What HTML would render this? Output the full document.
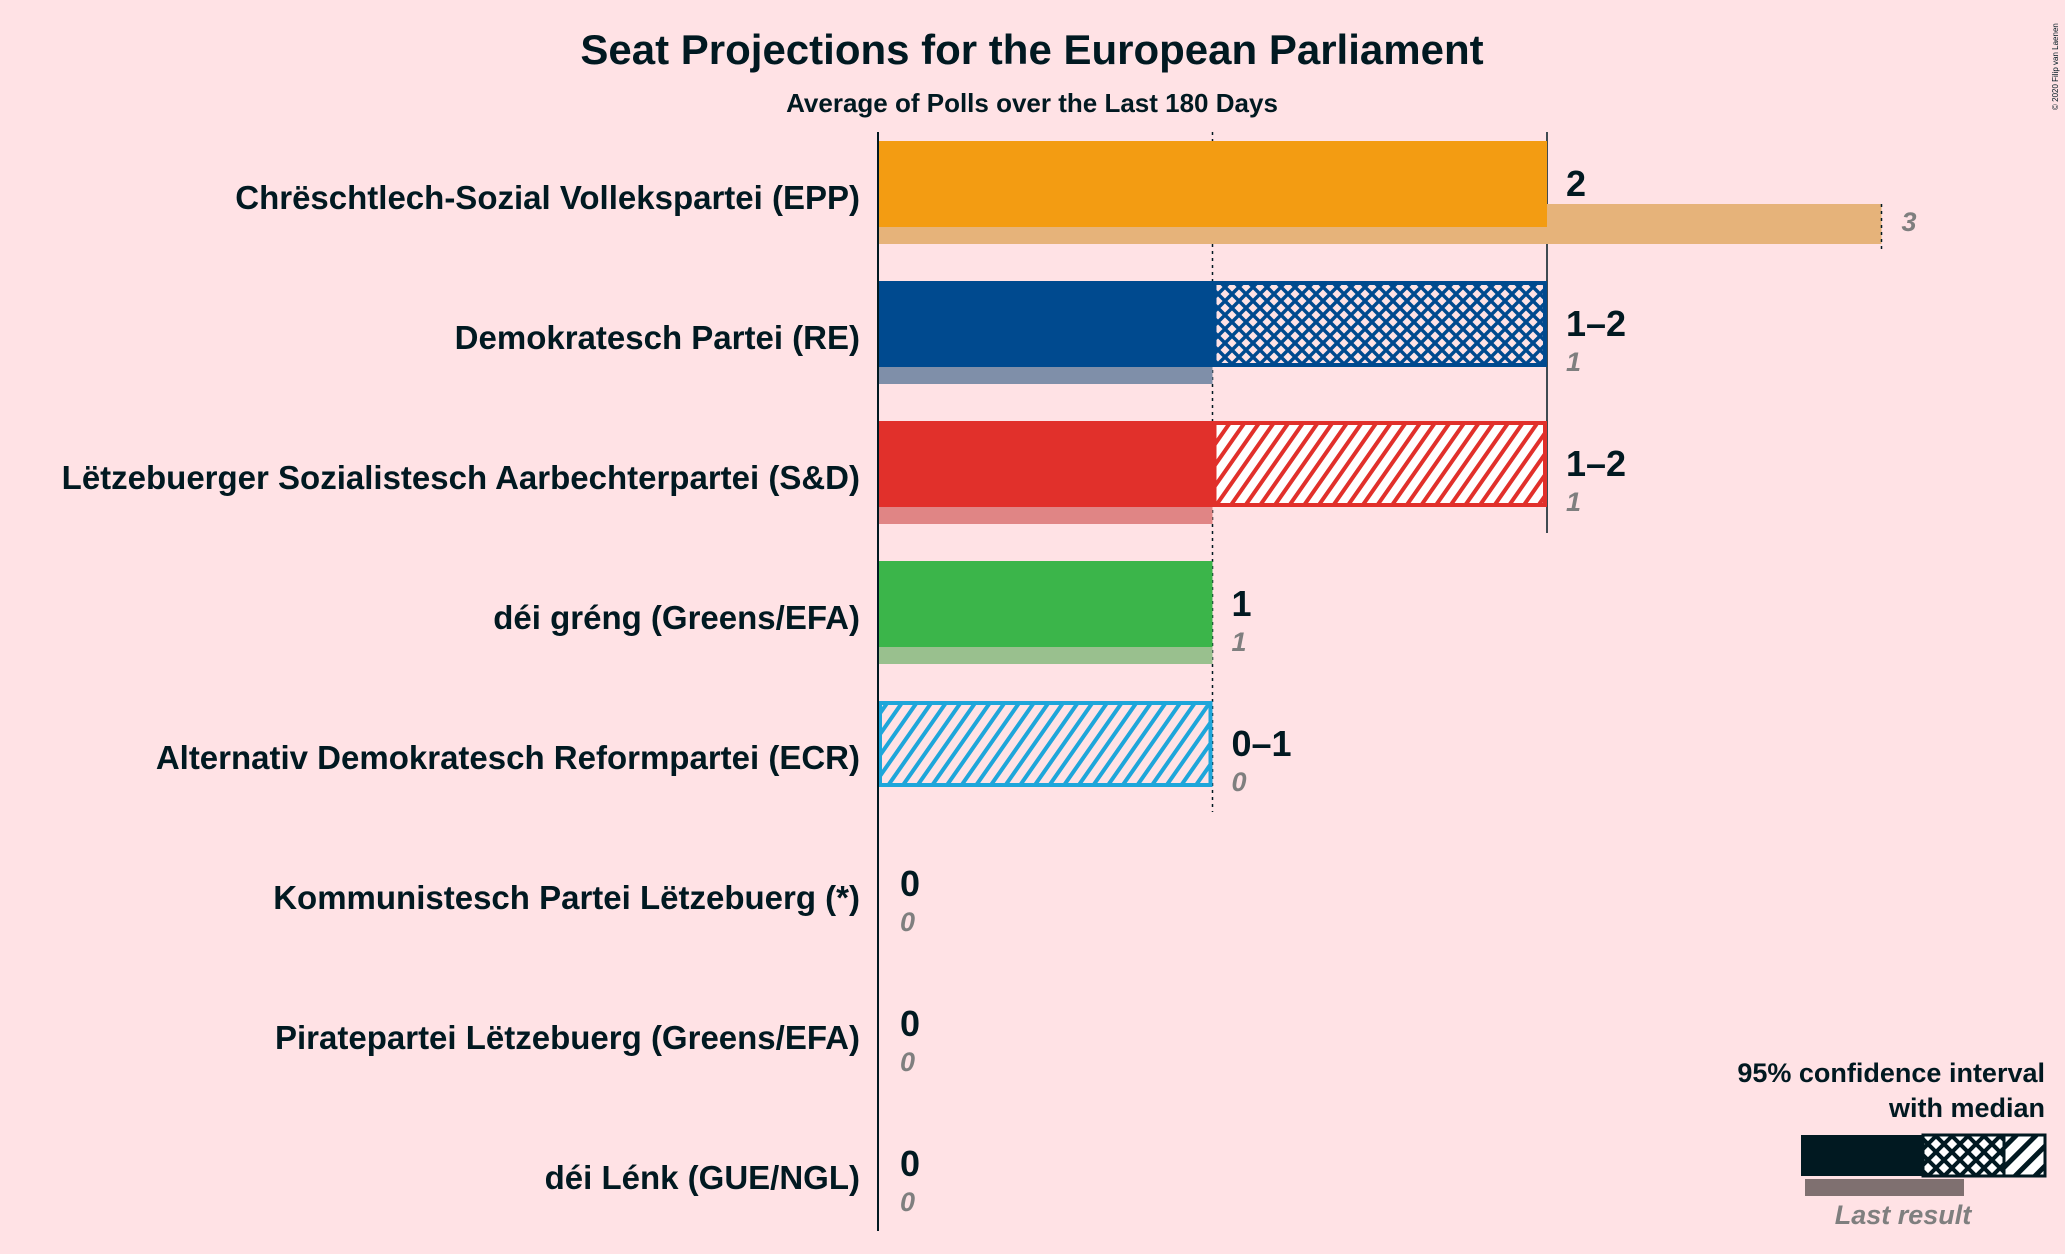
<!DOCTYPE html>
<html><head><meta charset="utf-8"><style>
html,body{margin:0;padding:0;background:#FFE2E5;}
svg{display:block;font-family:"Liberation Sans",sans-serif;}
</style></head><body>
<svg id="chart" width="2065" height="1254" viewBox="0 0 2065 1254" xmlns="http://www.w3.org/2000/svg">
<defs>
<pattern id="cross-blue" patternUnits="userSpaceOnUse" width="14" height="14"><path d="M0,0L14,14M14,0L0,14" stroke="#004A8F" stroke-width="3.5"/></pattern>
<pattern id="hatch-red" patternUnits="userSpaceOnUse" width="12" height="12" patternTransform="rotate(35)"><rect width="12" height="12" fill="#FFF"/><rect width="4" height="12" fill="#E1302B"/></pattern>
<pattern id="hatch-cyan" patternUnits="userSpaceOnUse" width="12" height="12" patternTransform="rotate(35)"><rect width="12" height="12" fill="#FFE2E5"/><rect width="4" height="12" fill="#1EA6DA"/></pattern>
<pattern id="cross-dark" patternUnits="userSpaceOnUse" width="16" height="16"><rect width="16" height="16" fill="#fff"/><path d="M0,0L16,16M16,0L0,16" stroke="#011921" stroke-width="4"/></pattern>
<pattern id="hatch-dark" patternUnits="userSpaceOnUse" width="14" height="14" patternTransform="rotate(45)"><rect width="14" height="14" fill="#fff"/><rect width="5" height="14" fill="#011921"/></pattern>
</defs>
<text x="1032" y="64" text-anchor="middle" font-size="42" font-weight="bold" fill="#011921">Seat Projections for the European Parliament</text>
<text x="1032" y="112" text-anchor="middle" font-size="26" font-weight="bold" fill="#011921">Average of Polls over the Last 180 Days</text>
<text transform="translate(2058,110) rotate(-90)" font-size="8" fill="#011921">© 2020 Filip van Laenen</text>
<g id="bars"></g>
<g>
<text x="2045" y="1082" text-anchor="end" font-size="27" font-weight="bold" fill="#011921">95% confidence interval</text>
<text x="2045" y="1117" text-anchor="end" font-size="27" font-weight="bold" fill="#011921">with median</text>
<rect x="1805" y="1179" width="159" height="17" fill="#7F7070"/>
<rect x="1801" y="1135" width="122" height="41" fill="#011921"/>
<rect x="1923" y="1135" width="81" height="41" fill="url(#cross-dark)" stroke="#011921" stroke-width="3"/>
<rect x="2004" y="1135" width="41" height="41" fill="url(#hatch-dark)" stroke="#011921" stroke-width="3"/>
<text x="1903" y="1224" text-anchor="middle" font-size="27" font-style="italic" font-weight="bold" fill="#7F7F7F">Last result</text>
</g>
</svg>
<script>
const parties=["Chrëschtlech-Sozial Vollekspartei (EPP)","Demokratesch Partei (RE)","Lëtzebuerger Sozialistesch Aarbechterpartei (S&D)","déi gréng (Greens/EFA)","Alternativ Demokratesch Reformpartei (ECR)","Kommunistesch Partei Lëtzebuerg (*)","Piratepartei Lëtzebuerg (Greens/EFA)","déi Lénk (GUE/NGL)"];
const ciLow=[2,1,1,1,0,0,0,0];
const ciHigh=[2,2,2,1,1,0,0,0];
const lastResult=[3,1,1,1,0,0,0,0];
const rangeLabels=["2","1–2","1–2","1","0–1","0","0","0"];
const colors=["#F39C12","#004A8F","#E1302B","#3BB54A","#1EA6DA","#888","#888","#888"];
const lastColors=["#E6B37A","#7F8FA9","#E08585","#99C08E","#8FC9E0","#aaa","#aaa","#aaa"];
const fills=[null,"url(#cross-blue)","url(#hatch-red)",null,"url(#hatch-cyan)",null,null,null];
const X0=878,UNIT=334.5,ROW0=141,STEP=140,BH=86;
const x=v=>X0+v*UNIT;
const g=document.getElementById('bars');
const NS="http://www.w3.org/2000/svg";
function mk(tag,a){const e=document.createElementNS(NS,tag);for(const k in a)e.setAttribute(k,a[k]);g.appendChild(e);return e;}
let l=mk('line',{x1:x(2),x2:x(2),y1:132,y2:533,stroke:"#011921","stroke-width":1.5});


l=mk('line',{x1:x(1),x2:x(1),y1:132,y2:812,stroke:"#011921","stroke-width":1.5,"stroke-dasharray":"3,4"});


parties.forEach((p,i)=>{
  const top=ROW0+i*STEP;
  let t=mk('text',{x:860,y:top+68,"text-anchor":"end","font-size":33,"font-weight":"bold",fill:"#011921"});
  t.textContent=p;
  
  
  if(lastResult[i]>0){
    const r=mk('rect',{x:X0,y:top+63,width:x(lastResult[i])-X0,height:40,fill:lastColors[i]});
    
    
  }
  if(lastResult[i]>ciHigh[i]){
    const d=mk('line',{x1:x(lastResult[i]),x2:x(lastResult[i]),y1:top+63,y2:top+112,stroke:"#011921","stroke-width":1.5,"stroke-dasharray":"3,4"});
    
    
  }
  if(ciLow[i]>0){
    const r=mk('rect',{x:X0,y:top,width:x(ciLow[i])-X0,height:BH,fill:colors[i]});
    
    
  }
  if(ciHigh[i]>ciLow[i]){
    const r=mk('rect',{x:x(ciLow[i])+2,y:top+2,width:x(ciHigh[i])-x(ciLow[i])-4,height:BH-4,fill:fills[i],stroke:colors[i],"stroke-width":4});
    
    
  }
  const vx=x(ciHigh[i])+(ciHigh[i]>0?19:22);
  t=mk('text',{x:vx,y:top+55,"font-size":36,"font-weight":"bold",fill:"#011921"});
  t.textContent=rangeLabels[i];
  
  
  const lx=lastResult[i]>ciHigh[i]?x(lastResult[i])+20:vx;
  t=mk('text',{x:lx,y:top+90,"font-size":27,"font-style":"italic","font-weight":"bold",fill:"#7F7F7F"});
  t.textContent=String(lastResult[i]);
  
  
});
l=mk('line',{x1:X0,x2:X0,y1:132,y2:1231,stroke:"#011921","stroke-width":2});


</script>
</body></html>
